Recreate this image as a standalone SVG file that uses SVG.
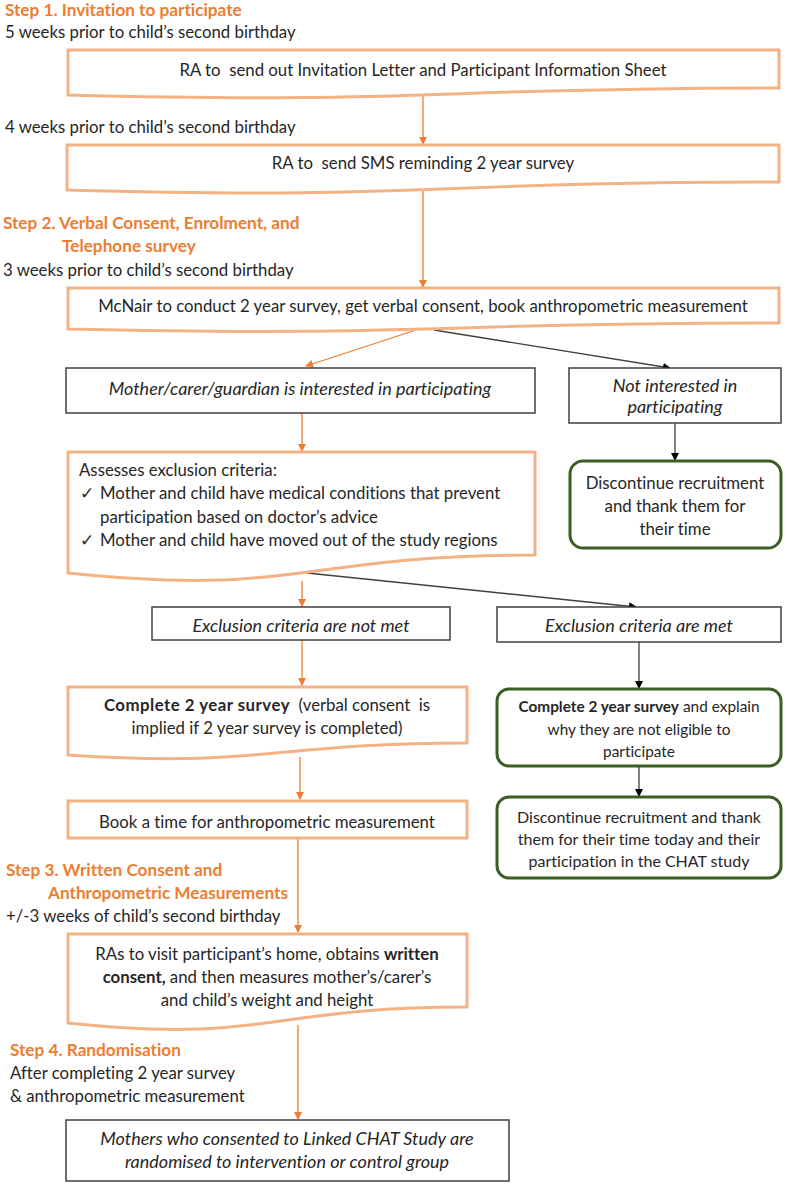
<svg xmlns="http://www.w3.org/2000/svg" width="787" height="1184" viewBox="0 0 787 1184">
<defs>
<style>
text{font-family:Lato,"Liberation Sans",sans-serif;font-size:16.8px;fill:#262626;white-space:pre;font-variant-ligatures:none;font-feature-settings:"liga" 0,"clig" 0,"dlig" 0}
.h{fill:#ED7D31;font-weight:bold;font-size:17.2px}
.c{text-anchor:middle}
.i{font-style:italic;font-size:18px}
.b{font-weight:bold}
.bw{letter-spacing:0.5px}
.s1{font-size:15.4px}
.s2{font-size:16px}
.ob{fill:#fff;stroke:#F4B183;stroke-width:3}
.kb{fill:#fff;stroke:#404040;stroke-width:1.5}
.gb{fill:#fff;stroke:#3B5E23;stroke-width:3}
.oa{stroke:#ED7D31;stroke-width:1.3;fill:none;marker-end:url(#ao)}
.ka{stroke:#404040;stroke-width:1.3;fill:none;marker-end:url(#ak)}
</style>
<marker id="ao" markerWidth="8" markerHeight="8" refX="7" refY="4" orient="auto" markerUnits="userSpaceOnUse"><path d="M0,0 L8,4 L0,8 Z" fill="#ED7D31"/></marker>
<marker id="ak" markerWidth="8" markerHeight="8" refX="7" refY="4" orient="auto" markerUnits="userSpaceOnUse"><path d="M0,0 L8,4 L0,8 Z" fill="#000"/></marker>
</defs>
<rect width="787" height="1184" fill="#fff"/>

<g id="labels">
<text class="h" x="5" y="16">Step 1. Invitation to participate</text>
<text x="5" y="38">5 weeks prior to child’s second birthday</text>
<text x="5" y="133">4 weeks prior to child’s second birthday</text>
<text class="h" x="3" y="229">Step 2. Verbal Consent, Enrolment, and</text>
<text class="h" x="62" y="252">Telephone survey</text>
<text x="3" y="276">3 weeks prior to child’s second birthday</text>
<text class="h" x="6" y="876">Step 3. Written Consent and</text>
<text class="h" x="48" y="899">Anthropometric Measurements</text>
<text x="6" y="922">+/-3 weeks of child’s second birthday</text>
<text class="h" x="10" y="1056">Step 4. Randomisation</text>
<text x="10" y="1079">After completing 2 year survey</text>
<text x="10" y="1102">&amp; anthropometric measurement</text>
</g>

<g id="connectors">
<line class="oa" x1="423" y1="96" x2="423" y2="144"/>
<line class="oa" x1="423" y1="191" x2="423" y2="287"/>
<line class="oa" x1="416" y1="330" x2="306" y2="366"/>
<line class="ka" x1="434" y1="330" x2="670" y2="368"/>
<line class="ka" x1="675" y1="423" x2="675" y2="460"/>
<line class="oa" x1="302" y1="413" x2="302" y2="451"/>
<line class="oa" x1="302" y1="581" x2="302" y2="606"/>
<line class="ka" x1="307" y1="573" x2="636" y2="607"/>
<line class="oa" x1="302" y1="640" x2="302" y2="685"/>
<line class="ka" x1="639" y1="642" x2="639" y2="688"/>
<line class="ka" x1="639" y1="766" x2="639" y2="796"/>
<line class="oa" x1="300" y1="757" x2="300" y2="799"/>
<line class="oa" x1="298" y1="838" x2="298" y2="932"/>
<line class="oa" x1="298" y1="1025" x2="298" y2="1119"/>
</g>

<g id="n1">
<path class="ob" d="M68,50 H779 V88 C423,88 423,104 68,95 Z"/>
<text class="c" x="423" y="76">RA to  send out Invitation Letter and Participant Information Sheet</text>
</g>
<g id="n2">
<path class="ob" d="M67,145 H779 V182 C423,182 423,200 67,190 Z"/>
<text class="c" x="423" y="169">RA to  send SMS reminding 2 year survey</text>
</g>
<g id="n3">
<path class="ob" d="M68,288 H779 V323 C423,323 423,337 68,329 Z"/>
<text class="c" x="423" y="312">McNair to conduct 2 year survey, get verbal consent, book anthropometric measurement</text>
</g>
<g id="n4">
<rect class="kb" x="66" y="368" width="469" height="45"/>
<text class="c i" x="300" y="395">Mother/carer/guardian is interested in participating</text>
</g>
<g id="n5">
<rect class="kb" x="569" y="368" width="212" height="55"/>
<text class="c i" x="675" y="392">Not interested in</text>
<text class="c i" x="675" y="413">participating</text>
</g>
<g id="n6">
<rect class="gb" x="570" y="461" width="211" height="87" rx="13"/>
<text class="c" x="675" y="489">Discontinue recruitment</text>
<text class="c" x="675" y="512">and thank them for</text>
<text class="c" x="675" y="535">their time</text>
</g>
<g id="n7">
<path class="ob" d="M68,452 H535 V555 C301,555 301,597 68,573 Z"/>
<text x="79" y="476">Assesses exclusion criteria:</text>
<text x="80" y="499">✓</text>
<text x="100" y="499">Mother and child have medical conditions that prevent</text>
<text x="100" y="523">participation based on doctor’s advice</text>
<text x="80" y="546">✓</text>
<text x="100" y="546">Mother and child have moved out of the study regions</text>
</g>
<g id="n8">
<rect class="kb" x="152" y="607" width="298" height="33"/>
<text class="c i" x="301" y="632">Exclusion criteria are not met</text>
</g>
<g id="n9">
<rect class="kb" x="497" y="607" width="284" height="35"/>
<text class="c i" x="639" y="632">Exclusion criteria are met</text>
</g>
<g id="n10">
<path class="ob" d="M68,687 H467 V743 C267,743 267,768 68,755 Z"/>
<text class="c" x="267" y="711"><tspan class="b bw">Complete 2 year survey</tspan>  (verbal consent  is</text>
<text class="c" x="267" y="734">implied if 2 year survey is completed)</text>
</g>
<g id="n11">
<rect class="gb" x="497" y="689" width="284" height="77" rx="12"/>
<text class="c s1" x="639" y="712"><tspan class="b">Complete 2 year survey</tspan> and explain</text>
<text class="c s1" x="639" y="735">why they are not eligible to</text>
<text class="c s1" x="639" y="757">participate</text>
</g>
<g id="n12">
<rect class="gb" x="497" y="797" width="284" height="81" rx="12"/>
<text class="c s2" x="639" y="823">Discontinue recruitment and thank</text>
<text class="c s2" x="639" y="845">them for their time today and their</text>
<text class="c s2" x="639" y="867">participation in the CHAT study</text>
</g>
<g id="n13">
<rect class="ob" x="68" y="801" width="399" height="37"/>
<text class="c" x="267" y="828">Book a time for anthropometric measurement</text>
</g>
<g id="n14">
<path class="ob" d="M68,934 H467 V1007 C267,1007 267,1044 68,1023 Z"/>
<text class="c" x="267" y="960">RAs to visit participant’s home, obtains <tspan class="b">written</tspan></text>
<text class="c" x="267" y="983"><tspan class="b">consent,</tspan> and then measures mother’s/carer’s</text>
<text class="c" x="267" y="1006">and child’s weight and height</text>
</g>
<g id="n15">
<rect class="kb" x="66" y="1120" width="443" height="61"/>
<text class="c i" x="287" y="1145">Mothers who consented to Linked CHAT Study are</text>
<text class="c i" x="287" y="1168">randomised to intervention or control group</text>
</g>
</svg>
